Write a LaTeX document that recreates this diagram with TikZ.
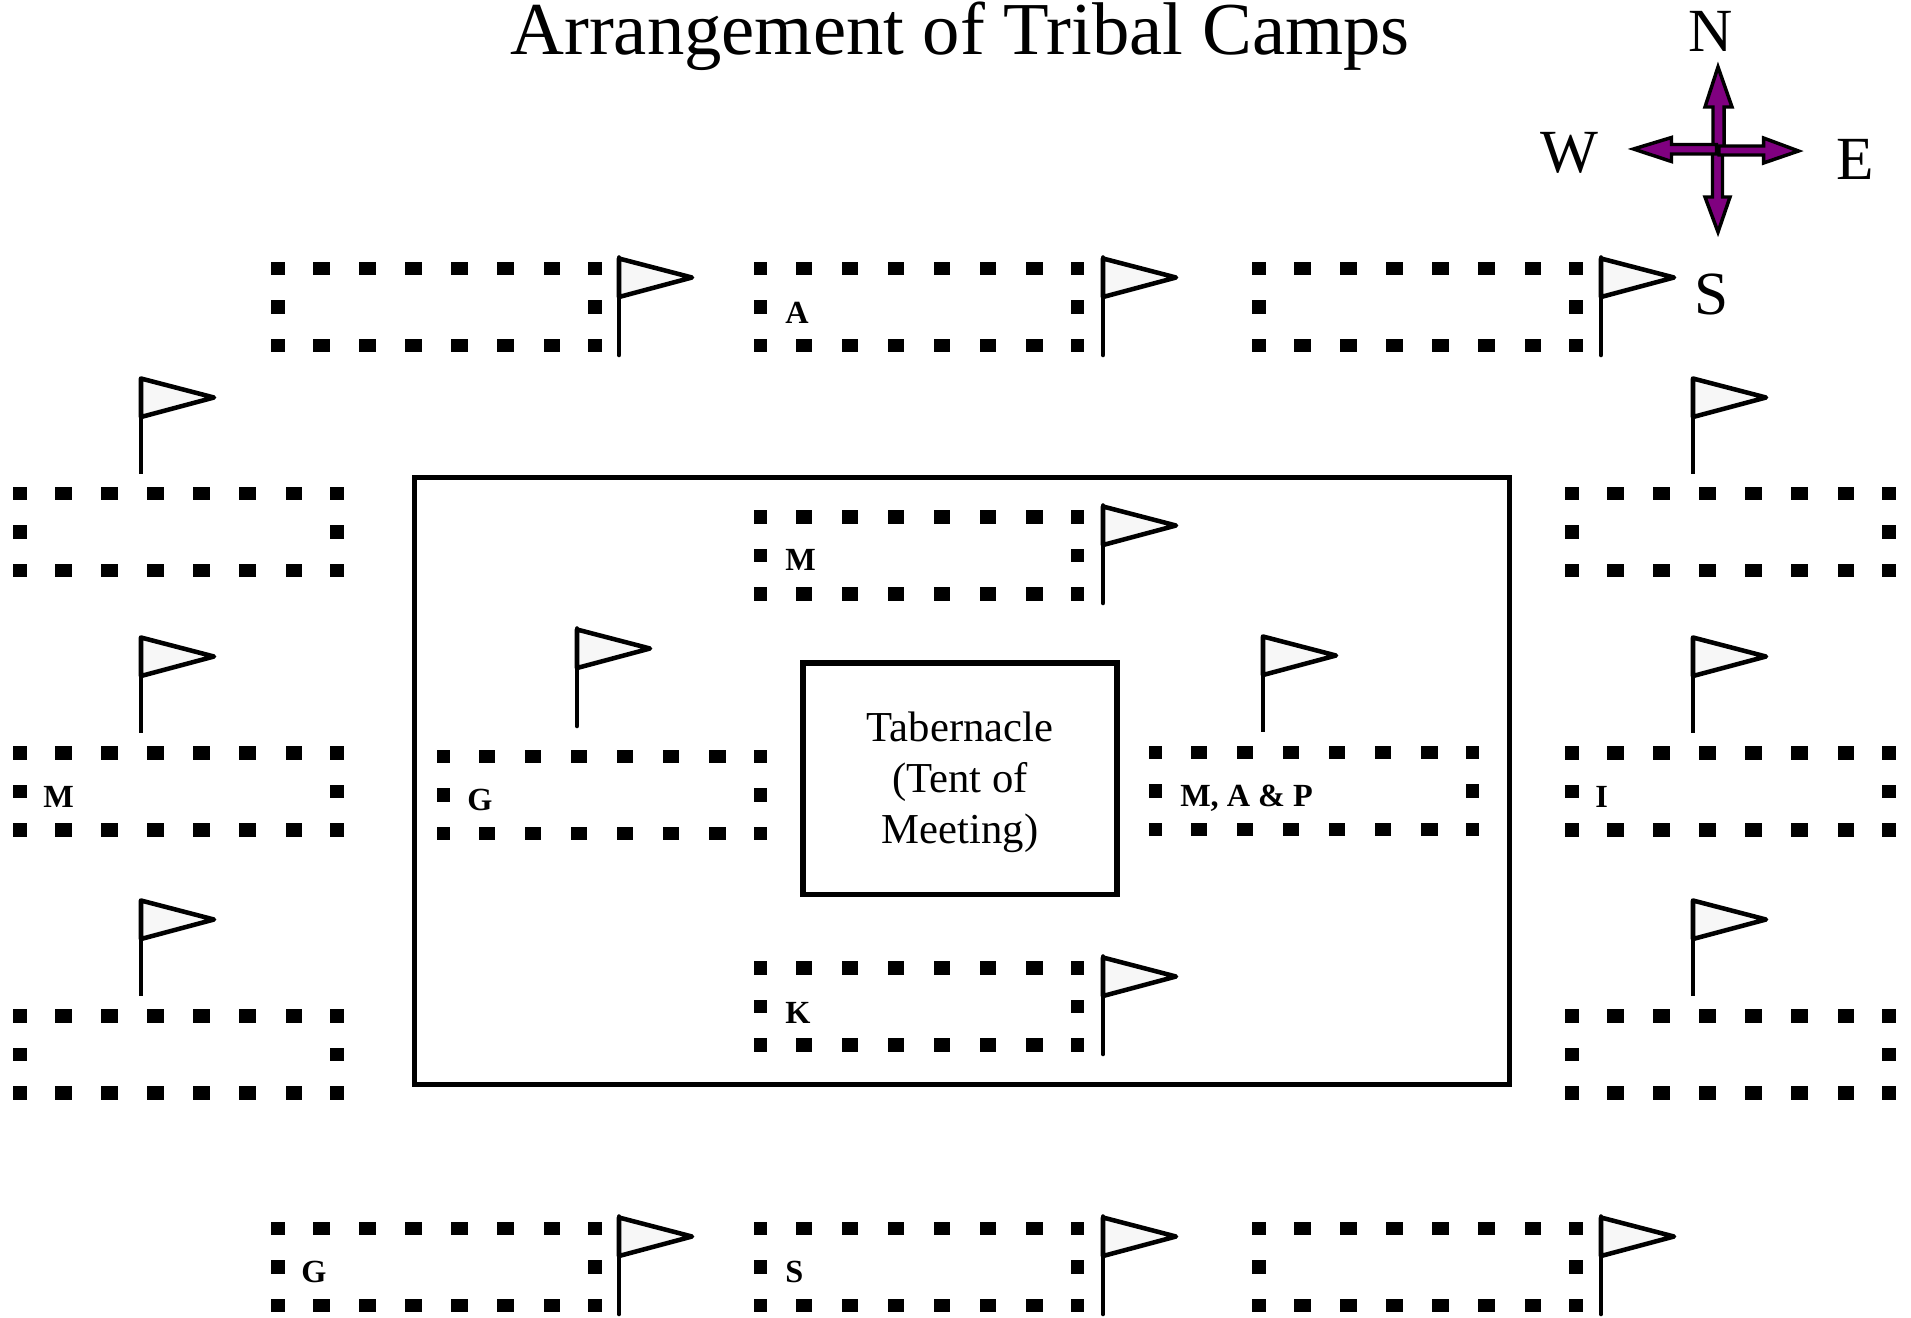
\documentclass[tikz,border=0pt]{standalone}
\usepackage{fontspec}
\setmainfont{Liberation Serif}
\definecolor{flagwhite}{RGB}{247,247,247}
\definecolor{compass}{RGB}{128,0,128}

\begin{document}
\begin{tikzpicture}[
    x=0.75pt, y=-0.75pt,
    every node/.style={inner sep=0pt},
    title/.style={font=\fontsize{56}{60}\selectfont, anchor=base},
    dirlabel/.style={font=\fontsize{46}{50}\selectfont, anchor=base},
    tribe/.style={font=\fontsize{24.2}{28}\selectfont\bfseries, anchor=base west},
    frame/.style={draw, line width=3.9pt},
    arrow/.style={draw, line width=2.6pt, fill=compass, miter limit=10},
    camp/.pic={
        \foreach \dx/\w in {0/13.5,43.5/16.5,89.5/16.5,135.5/16.5,181.5/16.5,227.5/16.5,274/16.5,317/13.5} {
            \fill (\dx-\w/2,-6.75) rectangle (\dx+\w/2,6.75);
            \fill (\dx-\w/2,70.25) rectangle (\dx+\w/2,83.75);
        }
        \fill (-6.75,31.75) rectangle (6.75,45.25);
        \fill (310.25,31.75) rectangle (323.75,45.25);
    },
    flag/.pic={
        \draw[line width=3.4pt, line join=round, fill=flagwhite] (0,1.5) -- (73,20.5) -- (0,40) -- cycle;
        \draw[line width=3.4pt, line cap=round] (0,0.5) -- (0,98);
    },
    shortflag/.pic={
        \draw[line width=3.4pt, line join=round, fill=flagwhite] (0,1.5) -- (73,20.5) -- (0,40) -- cycle;
        \draw[line width=3.4pt] (0,0) -- (0,97);
    },
]
\useasboundingbox (0,0) rectangle (1911,1318);

% Title
\node[title] (title_text) at (960, 54) {Arrangement of Tribal Camps};

% Compass
\draw[arrow] (1718,67) -- (1732,107) -- (1724,107) -- (1724,150) -- (1713,150) -- (1713,107) -- (1705,107) -- cycle;
\draw[arrow] (1718,232) -- (1730,197) -- (1722.5,197) -- (1722.5,153) -- (1712.5,153) -- (1712.5,197) -- (1705,197) -- cycle;
\draw[arrow] (1633.5,149) -- (1671.5,137.5) -- (1671.5,144.5) -- (1716.5,144.5) -- (1716.5,154) -- (1671.5,154) -- (1671.5,161.5) -- cycle;
\draw[arrow] (1798.5,151) -- (1763.5,138) -- (1763.5,146) -- (1719,146) -- (1719,155) -- (1763.5,155) -- (1763.5,163) -- cycle;
\node[dirlabel] (north) at (1711, 51.5) {N};
\node[dirlabel] (west) at (1569, 172) {W};
\node[dirlabel] (east) at (1855, 179) {E};
\node[dirlabel] (south) at (1712, 314) {S};

% North row
\pic at (278, 268.5) {camp};
\pic at (619, 257) {flag};
\pic at (760.5, 268.5) {camp};
\pic at (1103, 257) {flag};
\pic at (1259, 268.5) {camp};
\pic at (1601, 257) {flag};
\node[tribe] (tribe_a) at (785, 323) {A};

% West column
\pic at (20, 493.5) {camp};
\pic at (141, 377) {shortflag};
\pic at (20, 753) {camp};
\pic at (141, 636) {shortflag};
\pic at (20, 1016) {camp};
\pic at (141, 899) {shortflag};
\node[tribe] (tribe_m_west) at (43, 807) {M};

% East column
\pic at (1572, 493.5) {camp};
\pic at (1693, 377) {shortflag};
\pic at (1572, 753) {camp};
\pic at (1693, 636) {shortflag};
\pic at (1572, 1016) {camp};
\pic at (1693, 899) {shortflag};
\node[tribe] (tribe_i) at (1595, 807) {I};

% South row
\pic at (278, 1228.5) {camp};
\pic at (619, 1216) {flag};
\pic at (760.5, 1228.5) {camp};
\pic at (1103, 1216) {flag};
\pic at (1259, 1228.5) {camp};
\pic at (1601, 1216) {flag};
\node[tribe] (tribe_g_south) at (301, 1282) {G};
\node[tribe] (tribe_s) at (785, 1282) {S};

% Levite court
\node[frame, minimum width=1095.5pt*0.75, minimum height=607pt*0.75] (court) at (962, 781) {};
\node[frame, line width=4.2pt, minimum width=314pt*0.75, minimum height=231.7pt*0.75] (tabernacle) at (960, 778.8) {};
\node[align=center, font=\fontsize{32}{38.4}\selectfont, yshift=-2.6pt] (tabernacle_text) at (tabernacle.center) {Tabernacle\\(Tent of\\Meeting)};

\pic at (760.5, 517) {camp};
\pic at (1103, 505) {flag};
\node[tribe] (tribe_m_north) at (785, 570) {M};
\pic at (443.5, 756.7) {camp};
\pic at (577, 628) {flag};
\node[tribe] (tribe_g_west) at (467, 810) {G};
\pic at (1155.5, 752.5) {camp};
\pic at (1263, 635) {shortflag};
\node[tribe] (tribe_map) at (1180, 806.5) {M, A \& P};
\pic at (760.5, 968) {camp};
\pic at (1103, 956) {flag};
\node[tribe] (tribe_k) at (785, 1023) {K};

\end{tikzpicture}
\end{document}
